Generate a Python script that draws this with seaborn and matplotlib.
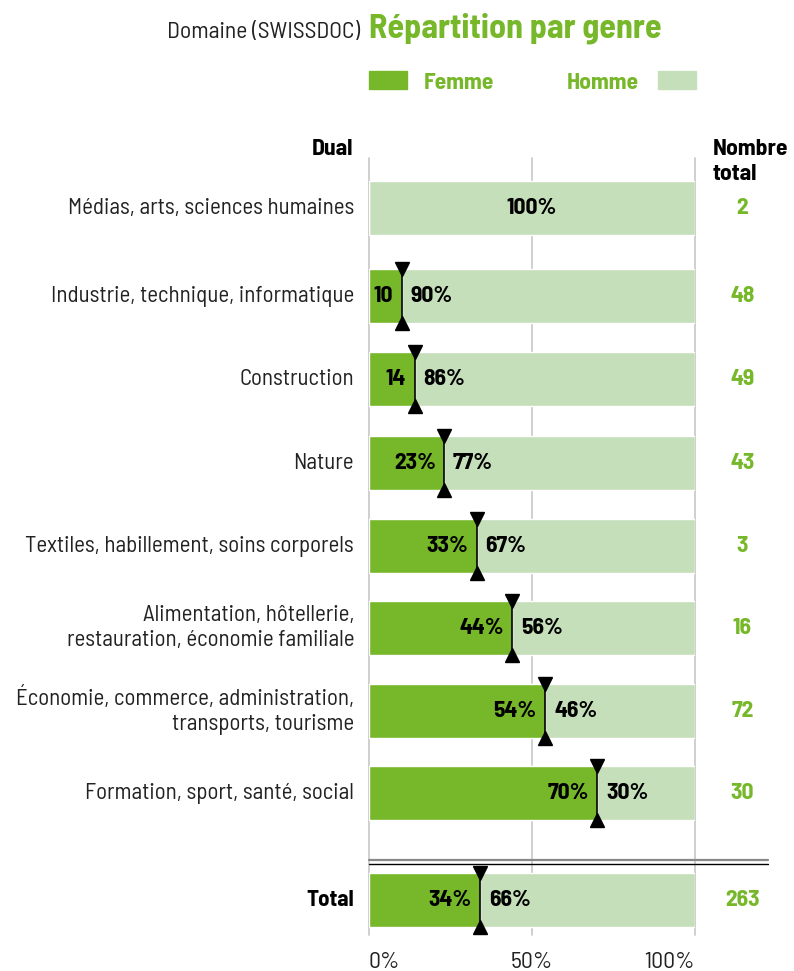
import numpy as np
import pandas as pd
import matplotlib
matplotlib.use('Agg')
import matplotlib.pyplot as plt
from matplotlib import font_manager
import seaborn as sns

# data
categories = ['Médias, arts, sciences humaines',
              'Industrie, technique, informatique',
              'Construction',
              'Nature',
              'Textiles, habillement, soins corporels',
              'Alimentation, hôtellerie,\nrestauration, économie familiale',
              'Économie, commerce, administration,\ntransports, tourisme',
              'Formation, sport, santé, social']
femme = [0, 10, 14, 23, 33, 44, 54, 70]
homme = [100, 90, 86, 77, 67, 56, 46, 30]
femme_labels = ['', '10', '14', '23%', '33%', '44%', '54%', '70%']
homme_labels = ['100%', '90%', '86%', '77%', '67%', '56%', '46%', '30%']
counts = [2, 48, 49, 43, 3, 16, 72, 30]

total_femme = 34
total_homme = 66
total_count = 263

tick_values = [0, 50, 100]
tick_labels = ['0%', '50%', '100%']

GREEN = '#76B82A'
LIGHT = '#C5DFBA'
GRID = '#cccccc'

sns.set_theme(style='white')
FAM = ['DejaVu Sans']
for cand in ['Barlow Semi Condensed', 'Roboto Condensed', 'Liberation Sans Narrow', 'Liberation Sans']:
    try:
        font_manager.findfont(cand, fallback_to_default=False)
        FAM = [cand, 'DejaVu Sans']
        break
    except Exception:
        pass
plt.rcParams['font.family'] = FAM

FS = 17
W, H = 794, 971
fig = plt.figure(figsize=(W / 100, H / 100), dpi=100)

# pixel -> figure fraction
def fx(x):
    return x / W

def fy(y):
    return 1 - y / H

ax = fig.add_axes([fx(369), fy(935), 326 / W, 777 / H])

# vertical layout in pixel rows of the picture
row_y = [208, 296, 379, 463, 546, 628, 711, 793, 900]
df = pd.DataFrame({
    'label': categories + ['Total'],
    'femme': femme + [total_femme],
    'homme': homme + [total_homme],
    'pos': row_y,
})
df['full'] = df['femme'] + df['homme']

bar_px = 54
min_gap = np.diff(row_y).min()
sns.barplot(data=df, x='full', y='pos', orient='h', native_scale=True,
            color=LIGHT, width=bar_px / min_gap, errorbar=None, saturation=1, ax=ax, zorder=2)
sns.barplot(data=df, x='femme', y='pos', orient='h', native_scale=True,
            color=GREEN, width=bar_px / min_gap, errorbar=None, saturation=1, ax=ax, zorder=3)

ax.set_xlim(0, 100)
ax.set_ylim(935, 158)
for v in tick_values:
    ax.plot([v, v], [158, 935], color=GRID, lw=1.3, zorder=1, clip_on=False)

for s in ax.spines.values():
    s.set_visible(False)
ax.set_yticks([])
ax.set_ylabel('')
ax.set_xlabel('')
ax.set_xticks(tick_values)
ax.set_xticklabels(tick_labels, fontsize=FS, color='#222222')
ax.tick_params(axis='x', length=0, pad=12)
for lab, ha in zip(ax.get_xticklabels(), ['left', 'center', 'right']):
    lab.set_horizontalalignment(ha)

# labels, markers and counts
all_f_lab = femme_labels + [f'{total_femme}%']
all_h_lab = homme_labels + [f'{total_homme}%']
all_counts = counts + [total_count]
half = bar_px / 2
for i, row in df.iterrows():
    p = row['pos']
    f = row['femme']
    name = row['label']
    ax.text(-4.6, p, name, ha='right', va='center', fontsize=16.5,
            fontweight='bold' if name == 'Total' else 'normal',
            color='black' if name == 'Total' else '#222222',
            linespacing=1.3, multialignment='right', clip_on=False)
    ax.text(114.5, p, str(all_counts[i]), ha='center', va='center', fontsize=FS,
            fontweight='bold', color=GREEN, clip_on=False)
    if f == 0:
        ax.text(50, p, all_h_lab[i], ha='center', va='center', fontsize=FS,
                fontweight='bold', color='black', zorder=5)
        continue
    ax.plot([f, f], [p - half, p + half], color='black', lw=1.2, zorder=4)
    ax.plot(f, p - half, marker='v', ms=10, color='black', zorder=5, clip_on=False)
    ax.plot(f, p + half, marker='^', ms=10, color='black', zorder=5, clip_on=False)
    ax.annotate(all_f_lab[i], (f, p), xytext=(-6, 0), textcoords='offset points',
                ha='right', va='center', fontsize=FS, fontweight='bold',
                color='black', zorder=5)
    ax.annotate(all_h_lab[i], (f, p), xytext=(6.5, 0), textcoords='offset points',
                ha='left', va='center', fontsize=FS, fontweight='bold',
                color='black', zorder=5)

# double separator above the total
x_end = (768 - 369) / 3.26
ax.plot([0, x_end], [860, 860], color='#888888', lw=1.6, clip_on=False, zorder=4)
ax.plot([0, x_end], [863.5, 863.5], color='black', lw=1.0, clip_on=False, zorder=4)

# headers
fig.text(fx(360), fy(38), 'Domaine (SWISSDOC)', ha='right', va='baseline',
         fontsize=FS, color='#222222')
fig.text(fx(369), fy(37), 'Répartition par genre', ha='left', va='baseline',
         fontsize=24.5, fontweight='bold', color=GREEN)

fig.patches.append(plt.Rectangle((fx(369), fy(89)), 38 / W, 18 / H,
                                 transform=fig.transFigure, color=GREEN))
fig.text(fx(424), fy(89), 'Femme', ha='left', va='baseline', fontsize=FS,
         fontweight='bold', color=GREEN)
fig.text(fx(567), fy(89), 'Homme', ha='left', va='baseline', fontsize=FS,
         fontweight='bold', color=GREEN)
fig.patches.append(plt.Rectangle((fx(658), fy(89)), 38 / W, 18 / H,
                                 transform=fig.transFigure, color=LIGHT))

fig.text(fx(353), fy(155), 'Dual', ha='right', va='baseline', fontsize=FS,
         fontweight='bold', color='black')
fig.text(fx(713), fy(155), 'Nombre', ha='left', va='baseline', fontsize=FS,
         fontweight='bold', color='black')
fig.text(fx(713), fy(180), 'total', ha='left', va='baseline', fontsize=FS,
         fontweight='bold', color='black')

fig.savefig('out.png', dpi=100)
